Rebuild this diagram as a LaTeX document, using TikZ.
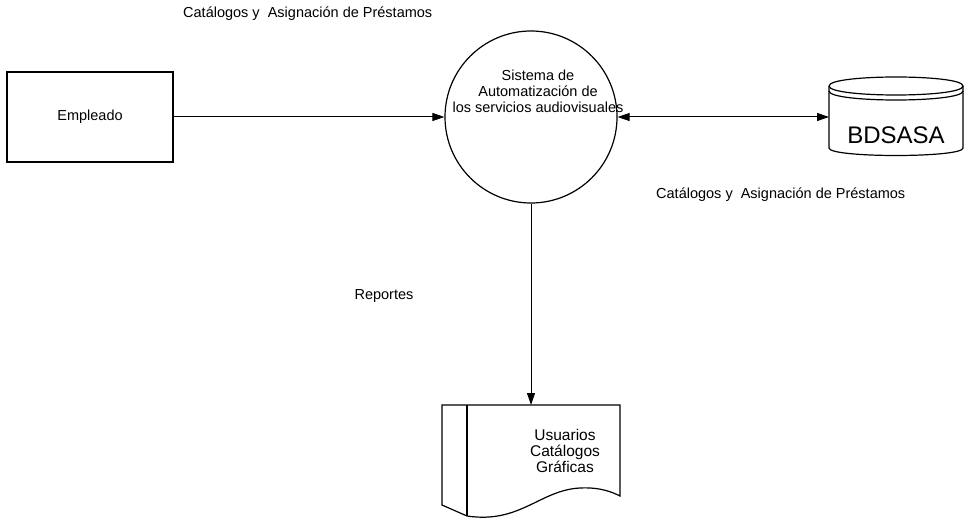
\documentclass[tikz,border=0pt]{standalone}
\usepackage{fontspec}
\setmainfont{Liberation Sans}
\usetikzlibrary{arrows.meta}
\begin{document}
\begin{tikzpicture}[x=1pt,y=-1pt,
  lbl/.style={font=\fontsize{14.5}{16}\selectfont, inner sep=0pt},
  doclbl/.style={font=\fontsize{15.5}{16}\selectfont, inner sep=0pt},
  flow/.style={line width=1pt, -{Triangle[length=12pt,width=8pt]}},
  outline/.style={line width=1.2pt},
  ghost/.style={inner sep=0pt, outer sep=0pt}]
\useasboundingbox (0,0) rectangle (968,521);

% external entity
\node[draw, outline, minimum width=166, minimum height=90, lbl] (emp) at (90,117) {Empleado};

% process
\node[draw, outline, circle, minimum size=172, inner sep=0pt] (proc) at (531,117) {};
\node[lbl, align=center] (proctxt) at (538,91) {Sistema de\\Automatización de\\los servicios audiovisuales};

% data store (cylinder)
\node[ghost, minimum width=134, minimum height=60] (db) at (896,117) {};
\draw[outline] (829,86) .. controls (829,74) and (963,74) .. (963,86)
  .. controls (963,98) and (829,98) .. (829,86);
\draw[outline] (829,91) .. controls (829,103) and (963,103) .. (963,91);
\draw[outline] (829,86) -- (829,148) .. controls (829,158) and (963,158) .. (963,148) -- (963,86);
\node[ghost, font=\fontsize{24}{26}\selectfont] (dbtxt) at (896,135) {BDSASA};

% report document
\node[ghost, minimum width=178, minimum height=100] (doc) at (531,455) {};
\draw[outline] (620,405) -- (442,405) -- (442,505) -- (467,516)
  .. controls (520,524) and (540,490) .. (580,488)
  .. controls (600,487) and (612,492) .. (620,496) -- cycle;
\draw[outline] (467,405) -- (467,516);
\node[doclbl, align=center] (doctxt) at (565,451) {Usuarios\\Catálogos\\Gráficas};

% flows
\draw[flow] (emp.east) -- (proc.west);
\draw[flow, {Triangle[length=12pt,width=8pt]}-{Triangle[length=12pt,width=8pt]}] (proc.east) -- (db.west);
\draw[flow] (proc.south) -- (doc.north);

% flow labels
\node[lbl, anchor=west] (toplbl) at (183,14) {Catálogos y\ \ Asignación de Préstamos};
\node[lbl, anchor=west] (dblbl) at (656,195) {Catálogos y\ \ Asignación de Préstamos};
\node[lbl] (replbl) at (384,296) {Reportes};
\end{tikzpicture}
\end{document}
